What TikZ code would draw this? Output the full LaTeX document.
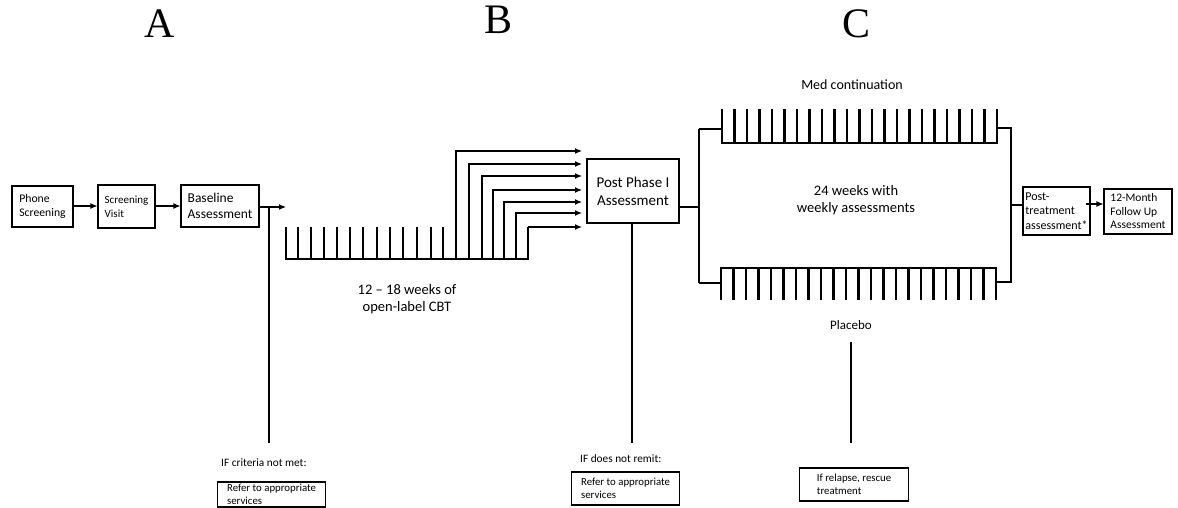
\documentclass[tikz,border=0pt]{standalone}
\usepackage{fontspec}
\setmainfont{Carlito}
\newfontfamily\titlefont{Liberation Serif}
\usetikzlibrary{arrows.meta}
\tikzset{
  box/.style={draw, line width=1.1pt, inner sep=2pt, align=left},
  conn/.style={line width=1.1pt},
  arr/.style={line width=1.1pt, -{Latex[length=7pt,width=6pt]}},
  comb/.style={line width=2.6pt},
  ttl/.style={font=\titlefont\fontsize{42}{42}\selectfont},
  lbl/.style={align=center, font=\fontsize{14.5}{17}\selectfont}
}
\begin{document}
\begin{tikzpicture}[x=1pt,y=-1pt]
\useasboundingbox (0,0) rectangle (1178,508);
% titles
\node[ttl] (tA) at (160,24) {A};
\node[ttl] (tB) at (499,20) {B};
\node[ttl] (tC) at (856,24) {C};
% left boxes
\node[box, minimum width=61, minimum height=41, font=\fontsize{11.7}{14}\selectfont] (phone) at (42.5,206.5) {Phone\\Screening};
\node[box, minimum width=57, minimum height=43, font=\fontsize{11}{14}\selectfont, inner sep=1pt] (visit) at (126.5,206.5) {Screening\\Visit};
\node[box, minimum width=78, minimum height=42, font=\fontsize{13.5}{16}\selectfont] (base) at (220,206) {Baseline\\Assessment};
\draw[arr] (phone.east |- 0,206) -- (visit.west |- 0,206);
\draw[arr] (visit.east |- 0,206) -- (base.west |- 0,206);
\coordinate (bend) at (286,207);
\draw[arr] (base.east |- 0,207) -- (bend);
\coordinate (b1) at (269,207);
\coordinate (b2) at (269,443);
\draw[conn] (b1) -- (b2);
% CBT comb
\draw[comb] (286,227) -- (286,259) -- (528,259) -- (528,227);
\foreach \x in {298,311,324,337,350,363,377,390,403,417,431,443,456,469,482,493,504,516}
  \draw[comb] (\x,259) -- (\x,227);
% Post Phase I
\node[box, minimum width=92, minimum height=64, align=center, font=\fontsize{15}{18}\selectfont] (post) at (633,191) {Post Phase I\\Assessment};
\foreach \x/\y [count=\i] in {456/151,469/164,482/176,493/190,504/202,516/213,528/227}{
  \coordinate (s\i) at (\x,227);
  \coordinate (e\i) at (582,\y);
  \draw[arr] (s\i) |- (e\i);
}
\node[lbl] (cbt) at (407,299) {12 -- 18 weeks of\\open-label CBT};
% branch
\coordinate (br) at (699,207);
\coordinate (brt) at (699,129);
\coordinate (brb) at (699,283);
\draw[conn] (post.east |- br) -- (br);
\draw[conn] (brt) -- (brb);
\draw[conn] (brt) -- (722,129);
\draw[conn] (brb) -- (721,283);
% Med continuation comb (top)
\draw[comb] (722,109) -- (722,143) -- (997,143) -- (997,109);
\foreach \i in {1,...,21}
  \draw[comb] ({722+\i*12.5},143) -- ({722+\i*12.5},109);
% Placebo comb (bottom)
\draw[comb] (721,300) -- (721,268) -- (996,268) -- (996,300);
\foreach \i in {1,...,21}
  \draw[comb] ({721+\i*12.5},268) -- ({721+\i*12.5},300);
\node[font=\fontsize{14}{16}\selectfont] (med) at (852,85) {Med continuation};
\node[lbl] (weeks) at (856,200) {24 weeks with\\weekly assessments};
\node[font=\fontsize{13}{15}\selectfont] (plac) at (851,325) {Placebo};
% right join
\coordinate (rj) at (1011,205);
\coordinate (rjt) at (1011,128);
\coordinate (rjb) at (1011,282);
\draw[conn] (997,128) -- (rjt) -- (rjb) -- (996,282);
\node[box, minimum width=67, minimum height=48, inner sep=1.5pt, font=\fontsize{12}{14.5}\selectfont] (ptr) at (1056.5,211) {Post-\\treatment\\assessment*};
\node[box, minimum width=68, minimum height=45, font=\fontsize{11.5}{13.5}\selectfont, inner sep=1pt] (fu) at (1138,211.5) {12-Month\\Follow Up\\Assessment};
\draw[conn] (rj) -- (ptr.west |- rj);
\draw[arr] (1086,204) -- (fu.west |- 0,204);
% drop lines
\coordinate (p1) at (632,223);
\coordinate (p2) at (632,443);
\draw[conn] (p1) -- (p2);
\coordinate (q1) at (851,342);
\coordinate (q2) at (851,443);
\draw[conn] (q1) -- (q2);
% bottom boxes
\node[anchor=west, font=\fontsize{11.3}{13}\selectfont, inner sep=0pt] (ifa) at (221,463) {IF criteria not met:};
\node[box, anchor=west, minimum width=108, minimum height=25, inner sep=1pt, inner xsep=5pt, font=\fontsize{10.8}{13}\selectfont] (ra) at (217,494.5) {Refer to appropriate\\services};
\node[anchor=west, font=\fontsize{11.3}{13}\selectfont, inner sep=0pt] (ifb) at (580,459) {IF does not remit:};
\node[box, anchor=west, minimum width=108, minimum height=33, inner xsep=5pt, font=\fontsize{10.8}{13}\selectfont] (rb) at (571,488.5) {Refer to appropriate\\services};
\node[box, anchor=west, minimum width=109, minimum height=33, inner xsep=8pt, font=\fontsize{10.8}{13}\selectfont] (rc) at (799,484.5) {If relapse, rescue\\treatment};
\end{tikzpicture}
\end{document}
